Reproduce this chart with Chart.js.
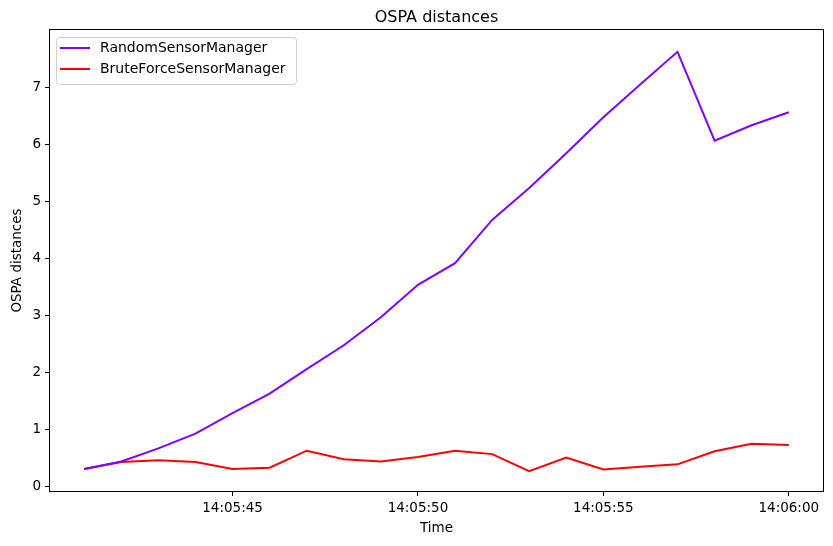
<!DOCTYPE html>
<html lang="en">
<head>
  <meta charset="UTF-8" />
  <title>OSPA distances</title>
  <script src="https://cdn.jsdelivr.net/npm/chart.js"></script>
  <style>
    body {
      margin: 0;
      background: #fff;
    }
    #wrap {
      width: 833px;
      height: 546px;
    }
  </style>
</head>
<body>
  <div id="wrap"><canvas id="grafico" width="833" height="546"></canvas></div>

  <script>
    // seconds after 14:05:00
    const seconds = [41, 42, 43, 44, 45, 46, 47, 48, 49, 50, 51, 52, 53, 54, 55, 56, 57, 58, 59, 60];
    const randomOspa = [0.30, 0.43, 0.66, 0.92, 1.28, 1.62, 2.05, 2.47, 2.96, 3.53, 3.91, 4.67, 5.23, 5.84, 6.47, 7.05, 7.62, 6.06, 6.33, 6.56];
    const bruteOspa = [0.30, 0.42, 0.45, 0.42, 0.30, 0.32, 0.62, 0.47, 0.43, 0.51, 0.62, 0.56, 0.26, 0.50, 0.29, 0.34, 0.38, 0.61, 0.74, 0.72];
    const xTicks = [45, 50, 55, 60];
    const yTicks = [0, 1, 2, 3, 4, 5, 6, 7];

    const FONT = "'DejaVu Sans', sans-serif";

    function fmtTime(s) {
      const m = 5 + Math.floor(s / 60);
      const ss = s % 60;
      return "14:" + String(m).padStart(2, "0") + ":" + String(ss).padStart(2, "0");
    }

    const toPoints = ys => seconds.map((s, i) => ({ x: s, y: ys[i] }));

    // frame, title and legend like matplotlib
    const decor = {
      id: "decor",
      afterDraw(chart) {
        const ctx = chart.ctx;
        const a = chart.chartArea;
        ctx.save();
        ctx.strokeStyle = "#000";
        ctx.lineWidth = 1;
        ctx.strokeRect(a.left + 0.5, a.top + 0.5, a.right - a.left - 1, a.bottom - a.top - 1);

        ctx.fillStyle = "#000";
        ctx.font = "16px " + FONT;
        ctx.textAlign = "center";
        ctx.textBaseline = "alphabetic";
        ctx.fillText("OSPA distances", (a.left + a.right) / 2, 22);

        // legend
        const ds = chart.data.datasets;
        const bx = a.left + 7, by = a.top + 8, bw = 240, bh = 47;
        ctx.fillStyle = "rgba(255,255,255,0.8)";
        ctx.strokeStyle = "#d0d0d0";
        ctx.beginPath();
        ctx.roundRect(bx + 0.5, by + 0.5, bw, bh, 3);
        ctx.fill();
        ctx.stroke();
        ctx.font = "14px " + FONT;
        ctx.textAlign = "left";
        ctx.textBaseline = "middle";
        ds.forEach((d, i) => {
          const yy = by + 11 + i * 21;
          ctx.strokeStyle = d.borderColor;
          ctx.lineWidth = 2;
          ctx.beginPath();
          ctx.moveTo(bx + 4, yy);
          ctx.lineTo(bx + 34, yy);
          ctx.stroke();
          ctx.fillStyle = "#000";
          ctx.fillText(d.label, bx + 44, yy);
        });
        ctx.restore();
      }
    };

    const ctx = document.getElementById("grafico").getContext("2d");
    new Chart(ctx, {
      type: "line",
      data: {
        datasets: [
          {
            label: "RandomSensorManager",
            data: toPoints(randomOspa),
            borderColor: "#7f00ff",
            borderWidth: 2,
            pointRadius: 0,
            tension: 0,
            fill: false
          },
          {
            label: "BruteForceSensorManager",
            data: toPoints(bruteOspa),
            borderColor: "#ff0000",
            borderWidth: 2,
            pointRadius: 0,
            tension: 0,
            fill: false
          }
        ]
      },
      options: {
        responsive: false,
        animation: false,
        layout: { padding: { top: 29, right: 9, left: 0, bottom: 0 } },
        plugins: {
          legend: { display: false },
          title: { display: false },
          tooltip: { enabled: false }
        },
        scales: {
          x: {
            type: "linear",
            min: 40.05,
            max: 60.95,
            afterBuildTicks: s => { s.ticks = xTicks.map(v => ({ value: v })); },
            afterFit: s => { s.height = 54; },
            grid: { drawOnChartArea: false, tickLength: 4, color: "#000" },
            border: { display: false },
            ticks: {
              color: "#000",
              padding: 4,
              maxRotation: 0,
              font: { family: FONT, size: 13.5 },
              callback: v => fmtTime(v)
            },
            title: {
              display: true,
              text: "Time",
              color: "#000",
              padding: { top: 0, bottom: 9 },
              font: { family: FONT, size: 13.5 }
            }
          },
          y: {
            min: -0.105,
            max: 8.02,
            afterBuildTicks: s => { s.ticks = yTicks.map(v => ({ value: v })); },
            afterFit: s => { s.width = 49; },
            grid: { drawOnChartArea: false, tickLength: 4, color: "#000" },
            border: { display: false },
            ticks: {
              color: "#000",
              padding: 4,
              font: { family: FONT, size: 13.5 }
            },
            title: {
              display: true,
              text: "OSPA distances",
              color: "#000",
              padding: { top: 9, bottom: 0 },
              font: { family: FONT, size: 13.5 }
            }
          }
        }
      },
      plugins: [decor]
    });
  </script>
</body>
</html>
